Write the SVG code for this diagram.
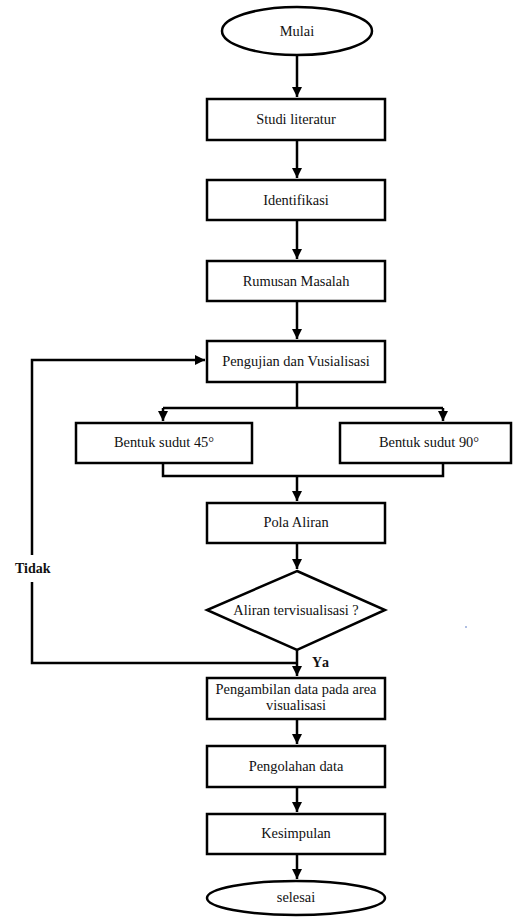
<svg xmlns="http://www.w3.org/2000/svg" width="514" height="917" viewBox="0 0 514 917">
<defs>
<marker id="ah" viewBox="0 0 10 10" refX="10" refY="5" markerWidth="4" markerHeight="4" orient="auto" markerUnits="strokeWidth">
<path d="M0,0 L10,5 L0,10 z" fill="#000"/>
</marker>
<style>
.n{fill:#fff;stroke:#000;stroke-width:2.5}
.t{font-family:"Liberation Serif","Times New Roman",serif;font-size:14.4px;fill:#111;text-anchor:middle}
.b{font-family:"Liberation Serif","Times New Roman",serif;font-size:14px;font-weight:bold;fill:#111}
.c{fill:none;stroke:#000;stroke-width:2.5}
</style>
</defs>
<rect width="514" height="917" fill="#fff"/>
<g id="connectors">
<path class="c" d="M297,55 V97" marker-end="url(#ah)"/>
<path class="c" d="M297,140 V178" marker-end="url(#ah)"/>
<path class="c" d="M297,220 V259" marker-end="url(#ah)"/>
<path class="c" d="M297,301 V339" marker-end="url(#ah)"/>
<path class="c" d="M297,382 V408"/>
<path class="c" d="M163,408 H443"/>
<path class="c" d="M163,408 V421" marker-end="url(#ah)"/>
<path class="c" d="M443,408 V421" marker-end="url(#ah)"/>
<path class="c" d="M163,463 V476 H443 V463"/>
<path class="c" d="M297,476 V501" marker-end="url(#ah)"/>
<path class="c" d="M297,543 V569" marker-end="url(#ah)"/>
<path class="c" d="M297,650 V676" marker-end="url(#ah)"/>
<path class="c" d="M297,663 H32 V582"/>
<path class="c" d="M32,555 V360 H205" marker-end="url(#ah)"/>
<path class="c" d="M297,719 V744" marker-end="url(#ah)"/>
<path class="c" d="M297,787 V812" marker-end="url(#ah)"/>
<path class="c" d="M297,854 V879" marker-end="url(#ah)"/>
<text class="b" x="15" y="573">Tidak</text>
<text class="b" x="312" y="667" letter-spacing="1.5">Ya</text>
</g>
<g id="mulai"><ellipse class="n" cx="297" cy="31" rx="75" ry="24"/><text class="t" x="297" y="36">Mulai</text></g>
<g id="studi"><rect class="n" x="207" y="99" width="178" height="41"/><text class="t" x="296" y="124">Studi literatur</text></g>
<g id="identifikasi"><rect class="n" x="207" y="180" width="178" height="40"/><text class="t" x="296" y="205">Identifikasi</text></g>
<g id="rumusan"><rect class="n" x="207" y="261" width="178" height="40"/><text class="t" x="296" y="286">Rumusan Masalah</text></g>
<g id="pengujian"><rect class="n" x="207" y="341" width="178" height="41"/><text class="t" x="296" y="366">Pengujian dan Vusialisasi</text></g>
<g id="sudut45"><rect class="n" x="76" y="423" width="176" height="40"/><text class="t" x="164" y="447">Bentuk sudut 45°</text></g>
<g id="sudut90"><rect class="n" x="340" y="423" width="171" height="40"/><text class="t" x="429" y="447">Bentuk sudut 90°</text></g>
<g id="pola"><rect class="n" x="207" y="503" width="178" height="40"/><text class="t" x="296" y="527">Pola Aliran</text></g>
<g id="keputusan"><polygon class="n" points="297,571 385,610 297,650 207,610"/><text class="t" x="296" y="615">Aliran tervisualisasi ?</text></g>
<g id="pengambilan"><rect class="n" x="207" y="678" width="178" height="41"/><text class="t" x="296" y="694">Pengambilan data pada area</text><text class="t" x="296" y="710">visualisasi</text></g>
<g id="pengolahan"><rect class="n" x="207" y="746" width="178" height="41"/><text class="t" x="296" y="771">Pengolahan data</text></g>
<g id="kesimpulan"><rect class="n" x="207" y="814" width="178" height="40"/><text class="t" x="296" y="838">Kesimpulan</text></g>
<g id="selesai"><ellipse class="n" cx="296" cy="898" rx="89" ry="17"/><text class="t" x="296" y="902">selesai</text></g>
<circle cx="466" cy="627" r="0.8" fill="#4a6fc0"/>
</svg>
